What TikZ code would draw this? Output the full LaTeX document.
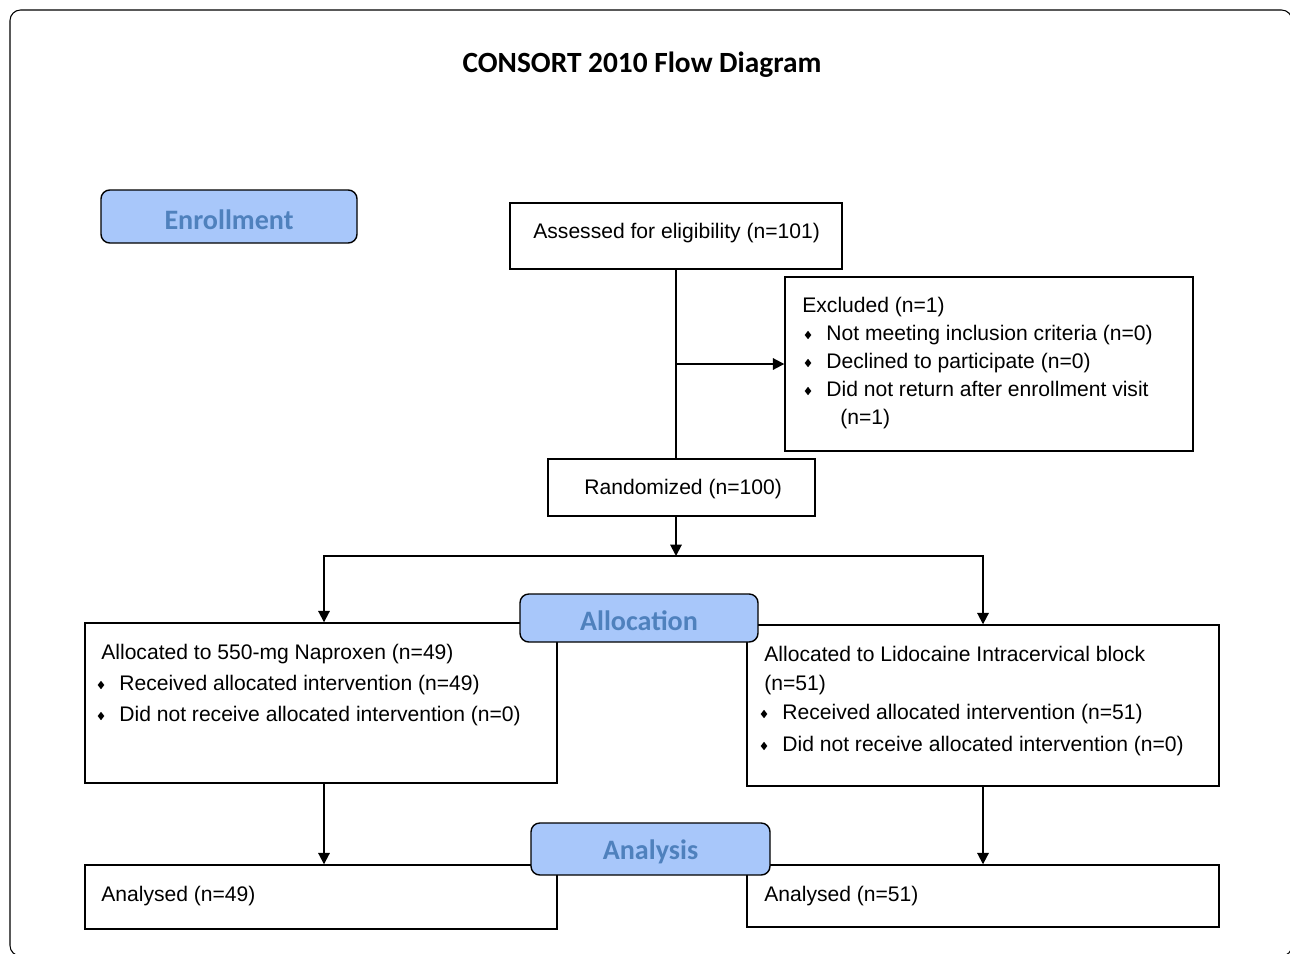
\documentclass[tikz,border=0pt]{standalone}
\usepackage{fontspec}
\setmainfont{Liberation Sans}
\newfontfamily\headfont{Carlito}
\usetikzlibrary{arrows.meta,fit}
\definecolor{headfill}{RGB}{168,199,250}
\definecolor{headtext}{RGB}{79,129,189}

\begin{document}
\begin{tikzpicture}[x=0.02cm,y=-0.02cm,
  box/.style={draw,line width=0.8pt,inner sep=0pt},
  head/.style={draw,line width=0.8pt,rounded corners=5pt,fill=headfill,inner sep=0pt},
  headtxt/.style={inner sep=0pt,yshift=-0.06cm,text=headtext,font=\headfont\bfseries\fontsize{16}{19}\selectfont},
  txt/.style={anchor=base west,inner sep=0pt,font=\fontsize{12}{14}\selectfont},
  arr/.style={line width=1.1pt,-{Triangle[length=6.5pt,width=6.5pt]}}]
\useasboundingbox (0,0) rectangle (1290,953);
\draw[line width=0.6pt,rounded corners=6pt] (10,10) rectangle (1292,956);
\node[font=\headfont\bfseries\fontsize{16.7}{20}\selectfont] (title) at (642,65) {CONSORT 2010 Flow Diagram};

\node[box,fit={(510,203) (842,269)}] (assess) {};
\node[box,fit={(785,277) (1193,451)}] (excl) {};
\node[box,fit={(548,459) (815,516)}] (rand) {};
\node[box,fit={(85,623) (557,783)}] (naprox) {};
\node[box,fit={(747,625) (1219,786)}] (lido) {};
\node[box,fit={(85,865) (557,929)}] (anlnap) {};
\node[box,fit={(747,865) (1219,927)}] (anllido) {};

\node[txt] (assesstxt) at (533,238) {Assessed for eligibility (n=101)};
\node[txt] (excltxt) at (802,312) {Excluded (n=1)};
\node[txt] (randtxt) at (584,494) {Randomized (n=100)};
\node[txt] (naproxtxt) at (101,659) {Allocated to 550-mg Naproxen (n=49)};
\node[txt] (lidotxt) at (764,661) {Allocated to Lidocaine Intracervical block};
\node[txt] (lidotxtb) at (764,690) {(n=51)};
\node[txt] (anlnaptxt) at (101,901) {Analysed (n=49)};
\node[txt] (anllidotxt) at (764,901) {Analysed (n=51)};
\node[txt] (excltxtd) at (840,424) {(n=1)};

\foreach \x/\y/\t [count=\i] in {826/340/{Not meeting inclusion criteria (n=0)},
  826/368/{Declined to participate (n=0)},826/396/{Did not return after enrollment visit},
  119/690/{Received allocated intervention (n=49)},119/721/{Did not receive allocated intervention (n=0)},
  782/719/{Received allocated intervention (n=51)},782/751/{Did not receive allocated intervention (n=0)}}
{\node[txt] (item\i) at (\x,\y) {\t};
 \fill (\x-18,\y-5) +(-3.3,0) -- +(0,-4.2) -- +(3.3,0) -- +(0,4.2) -- cycle;}

\coordinate (split) at (assess.south |- 0,556);
\draw[line width=1.1pt] (assess.south) -- (assess.south |- rand.north);
\draw[arr] (assess.south |- excl.west) -- (excl.west);
\draw[arr] (assess.south |- rand.south) -- (split);
\draw[arr] (split) -| ([xshift=0.06cm]naprox.north);
\draw[arr] (split) -| (lido.north);
\draw[arr] ([xshift=0.06cm]naprox.south) -- ([xshift=0.06cm]anlnap.north);
\draw[arr] (lido.south) -- (anllido.north);

\node[head,fit={(101,190) (357,243)}] (enrol) {};
\node[head,fit={(520,594) (758,642)}] (alloc) {};
\node[head,fit={(531,823) (770,875)}] (analysis) {};
\node[headtxt] (enroltxt) at (enrol.center) {Enrollment};
\node[headtxt] (alloctxt) at (alloc.center) {Allocation};
\node[headtxt] (analysistxt) at (analysis.center) {Analysis};
\end{tikzpicture}
\end{document}
